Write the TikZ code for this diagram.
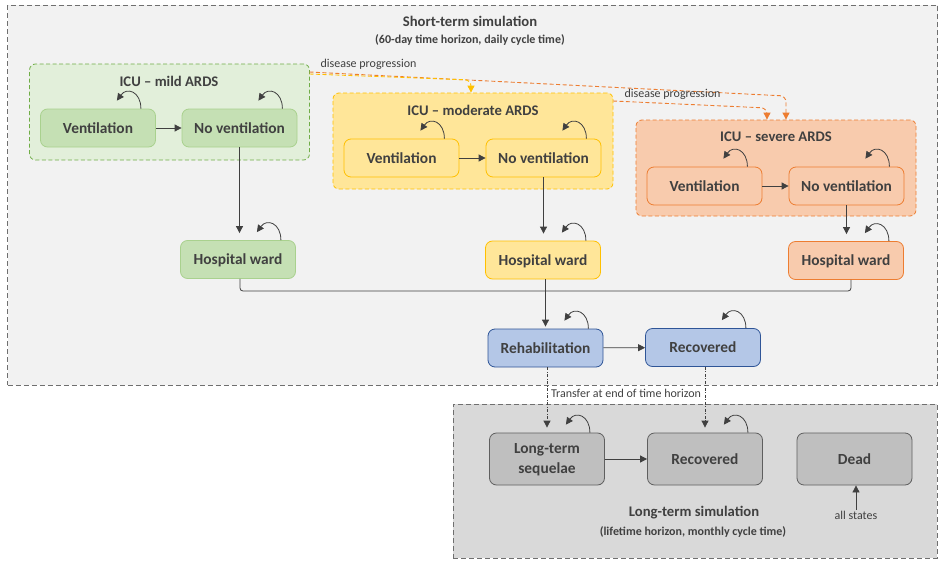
\documentclass[tikz,border=0pt]{standalone}
\usepackage{fontspec}
\setmainfont{Carlito}
\usetikzlibrary{arrows.meta,calc}
\definecolor{txt}{HTML}{404040}
\definecolor{outerfill}{HTML}{F2F2F2}
\definecolor{outerline}{HTML}{6F6F6F}
\definecolor{ltfill}{HTML}{D9D9D9}
\definecolor{gGroup}{HTML}{E2EFDA}
\definecolor{gLine}{HTML}{70AD47}
\definecolor{gNode}{HTML}{C5E0B4}
\definecolor{gNodeLine}{HTML}{A9D18E}
\definecolor{yFill}{HTML}{FFE699}
\definecolor{yLine}{HTML}{FFC000}
\definecolor{oFill}{HTML}{F8CBAD}
\definecolor{oLine}{HTML}{ED7D31}
\definecolor{bFill}{HTML}{B4C7E7}
\definecolor{bLine}{HTML}{2F5597}
\definecolor{grFill}{HTML}{BFBFBF}
\definecolor{grLine}{HTML}{5F5F5F}
\newcommand\sloop[2][15]{\draw[arr] ([xshift=-#1pt]#2.north east) .. controls +(0,-17) and +(10,-14) .. ++(-24,-8);}
\begin{document}
\begin{tikzpicture}[x=1pt,y=-1pt,
  bigfont/.style={font=\fontsize{14.67}{18}\selectfont\bfseries, text=txt},
  nodefont/.style={font=\fontsize{15.4}{19}\selectfont\bfseries, text=txt},
  subfont/.style={font=\fontsize{12}{14}\selectfont\bfseries, text=txt},
  smallfont/.style={font=\fontsize{12}{14}\selectfont, text=txt},
  group/.style={draw, dash pattern=on 4pt off 2.5pt, rounded corners=6pt, minimum width=280pt, minimum height=96pt, inner sep=0pt, line width=0.8pt},
  state/.style={draw, rounded corners=7pt, minimum width=115pt, minimum height=38pt, inner sep=0pt, nodefont, line width=0.8pt, align=center, text depth=0pt},
  arr/.style={-{Triangle[length=7pt,width=7pt]}, line width=0.8pt, draw=txt, fill=none},
  dprog/.style={-{Triangle[length=7pt,width=7pt]}, line width=0.9pt, dash pattern=on 4pt off 2.5pt, rounded corners=6pt},
  transfer/.style={-{Triangle[length=7pt,width=7pt]}, line width=0.8pt, draw=txt, dash pattern=on 3pt off 1.5pt on 1pt off 1.5pt},
  simbox/.style={draw=outerline, dash pattern=on 5pt off 3pt, line width=0.9pt, inner sep=0pt},
]
\useasboundingbox (0,0) rectangle (943,565);

% outer boxes
\node[simbox, fill=outerfill, minimum width=930pt, minimum height=380pt] (short) at (472.5,195) {};
\node[simbox, fill=ltfill, minimum width=484pt, minimum height=154pt] (long) at (695,481) {};

\node[bigfont] (sttitle) at (470,21) {Short-term simulation};
\node[subfont] (stsub) at (470,40) {(60-day time horizon, daily cycle time)};

% groups
\node[group, draw=gLine, fill=gGroup] (gmild) at (169.5,112) {};
\node[group, draw=yLine, fill=yFill] (gmod) at (473,141) {};
\node[group, draw=oLine, fill=oFill] (gsev) at (776,168) {};

\node[bigfont] (tmild) at (169,81) {ICU -- mild ARDS};
\node[bigfont] (tmod) at (473,110) {ICU -- moderate ARDS};
\node[bigfont] (tsev) at (776,137) {ICU -- severe ARDS};

% states mild
\node[state, fill=gNode, draw=gNodeLine] (v1) at (98,128) {Ventilation};
\node[state, fill=gNode, draw=gNodeLine] (n1) at (239.5,128) {No ventilation};
\node[state, fill=gNode, draw=gNodeLine] (h1) at (238,259.5) {Hospital ward};
% moderate
\node[state, fill=yFill, draw=yLine] (v2) at (401.5,158) {Ventilation};
\node[state, fill=yFill, draw=yLine] (n2) at (543.5,158) {No ventilation};
\node[state, fill=yFill, draw=yLine] (h2) at (543,260) {Hospital ward};
% severe
\node[state, fill=oFill, draw=oLine] (v3) at (704.5,186) {Ventilation};
\node[state, fill=oFill, draw=oLine] (n3) at (846.5,186) {No ventilation};
\node[state, fill=oFill, draw=oLine] (h3) at (846,260.5) {Hospital ward};
% rehab
\node[state, fill=bFill, draw=bLine] (rehab) at (545.5,348) {Rehabilitation};
\node[state, fill=bFill, draw=bLine] (rec) at (703,347.5) {Recovered};
% long-term
\node[state, fill=grFill, draw=grLine, minimum height=52pt] (lts) at (547,459) {Long-term\\[1pt]sequelae};
\node[state, fill=grFill, draw=grLine, minimum height=52pt] (ltrec) at (705,459) {Recovered};
\node[state, fill=grFill, draw=grLine, minimum height=52pt] (dead) at (854.5,459) {Dead};

\node[bigfont] (lttitle) at (694,513) {Long-term simulation};
\node[subfont] (ltsub) at (693,532) {(lifetime horizon, monthly cycle time)};
\node[smallfont, inner sep=1pt] (allst) at (856,515) {all states};

% self loops
\sloop{v1}\sloop{n1}\sloop{h1}
\sloop{v2}\sloop{n2}\sloop{h2}
\sloop{v3}\sloop{n3}\sloop{h3}
\sloop{rehab}\sloop{rec}
\sloop{lts}\sloop{ltrec}

% horizontal transitions
\draw[arr] (v1) -- (n1);
\draw[arr] (v2) -- (n2);
\draw[arr] (v3) -- (n3);
\draw[arr] (rehab) -- (rec);
\draw[arr] (lts) -- (ltrec);

% to hospital wards
\draw[arr, shorten >=7pt] (n1.south) -- (n1.south |- h1.north);
\draw[arr, shorten >=7pt] (n2.south) -- (n2.south |- h2.north);
\draw[arr, shorten >=7pt] (n3.south) -- (n3.south |- h3.north);

% merge to rehab
\coordinate (jn) at (545.5,291);
\draw[line width=0.8pt, draw=txt, rounded corners=3pt] ([xshift=2pt]h1.south) |- (jn);
\draw[line width=0.8pt, draw=txt, rounded corners=3pt] ([xshift=5pt]h3.south) |- (jn);
\draw[arr, shorten >=2pt] (jn |- h2.south) -- (rehab.north);

% disease progression
\coordinate (dp1) at (309.5,72);
\coordinate (dp2) at (309.5,74);
\coordinate (dp3) at (613,101);
\coordinate (k1) at (786,96);
\coordinate (k2) at (471,80);
\coordinate (k3) at (767,108);
\draw[dprog, draw=oLine] (dp1) -- (k1) -- (k1 |- gsev.north);
\draw[dprog, draw=yLine] (dp2) -- (k2) -- (k2 |- gmod.north);
\draw[dprog, draw=oLine] (dp3) -- (k3) -- (k3 |- gsev.north);
\node[smallfont, anchor=west] (dplab1) at (317,64) {disease progression};
\node[smallfont, anchor=west] (dplab2) at (621,94) {disease progression};

% transfers
\draw[transfer, shorten >=5pt] (rehab.south -| lts.north) -- (lts.north);
\draw[transfer, shorten >=5pt] (rec.south -| ltrec.north) -- (ltrec.north);
\node[smallfont] (trlab) at (626,393) {Transfer at end of time horizon};

% all states -> dead
\draw[arr] (allst.north) -- (allst.north |- dead.south);
\end{tikzpicture}
\end{document}
